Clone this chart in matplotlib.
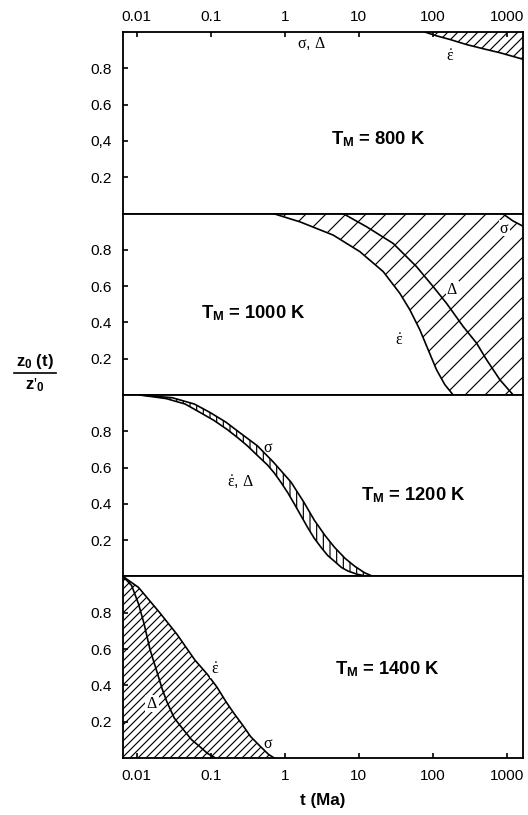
import numpy as np
import matplotlib
matplotlib.use("Agg")
import matplotlib.pyplot as plt
from matplotlib.lines import Line2D

plt.rcParams['font.family'] = ['Liberation Sans', 'DejaVu Sans']
plt.rcParams['mathtext.fontset'] = 'custom'
plt.rcParams['mathtext.rm'] = 'Liberation Serif'
plt.rcParams['mathtext.it'] = 'Liberation Serif:italic'
plt.rcParams['mathtext.bf'] = 'Liberation Sans:bold'
plt.rcParams['mathtext.default'] = 'rm'
plt.rcParams['hatch.linewidth'] = 0.7

# x ticks (t in Ma) and y ticks
t_ticks = [0.01, 0.1, 1, 10, 100, 1000]
t_labels = ["0.01", "0.1", "1", "10", "100", "1000"]
y_ticks = [0.2, 0.4, 0.6, 0.8]
y_labels_top = ["0.2", "0,4", "0.6", "0.8"]
y_labels = ["0.2", "0.4", "0.6", "0.8"]
t_min, t_max = 0.0065, 1650

# T_M = 800 K
t800_eps = [78, 110, 170, 285, 478, 804, 1650]
z800_eps = [1.0, 0.98, 0.959, 0.931, 0.908, 0.886, 0.85]

# T_M = 1000 K
t1000_eps = [0.695, 1.6, 4.5, 10.3, 21.3, 35.8, 48.9, 66.7, 86.4, 112, 145, 188]
z1000_eps = [1.0, 0.954, 0.881, 0.79, 0.68, 0.56, 0.469, 0.359, 0.249, 0.139, 0.057, 0.0]
t1000_delta = [6.1, 12.7, 29.1, 60.2, 101, 153, 257, 389, 532, 804, 1217]
z1000_delta = [1.0, 0.927, 0.835, 0.707, 0.597, 0.505, 0.377, 0.286, 0.194, 0.084, 0.0]
t1000_sigma = [870, 1200, 1650]
z1000_sigma = [1.0, 0.96, 0.93]

# T_M = 1200 K
t1200_eps = [0.011, 0.025, 0.045, 0.072, 0.11, 0.166, 0.23, 0.311, 0.43, 0.58, 0.72,
             0.88, 1.1, 1.34, 1.65, 2.03, 2.5, 3.09, 3.8, 4.7, 5.8, 7.1, 9.5, 13.3]
z1200_eps = [1.0, 0.98, 0.95, 0.903, 0.86, 0.81, 0.765, 0.72, 0.665, 0.615, 0.57,
             0.52, 0.46, 0.40, 0.335, 0.27, 0.21, 0.16, 0.115, 0.083, 0.05, 0.03, 0.012, 0.0]
t1200_sigma = [0.011, 0.03, 0.06, 0.098, 0.16, 0.25, 0.425, 0.7, 1.21, 1.8, 2.5,
               3.5, 4.7, 6.5, 8.8, 12, 15.6]
z1200_sigma = [1.0, 0.985, 0.95, 0.903, 0.85, 0.79, 0.72, 0.63, 0.52, 0.41, 0.31,
               0.225, 0.16, 0.1, 0.056, 0.02, 0.0]

# T_M = 1400 K
t1400_sigma = [0.0065, 0.0105, 0.0204, 0.035, 0.0607, 0.09, 0.121, 0.16, 0.204,
               0.27, 0.344, 0.47, 0.6, 0.715]
z1400_sigma = [1.0, 0.94, 0.80, 0.68, 0.54, 0.46, 0.39, 0.31, 0.247,
               0.18, 0.118, 0.062, 0.02, 0.0]
t1400_delta = [0.0065, 0.0085, 0.0105, 0.0125, 0.015, 0.0185, 0.022, 0.0254,
               0.032, 0.0427, 0.055, 0.072, 0.09, 0.115]
z1400_delta = [1.0, 0.95, 0.85, 0.74, 0.60, 0.48, 0.38, 0.31,
               0.22, 0.155, 0.10, 0.06, 0.025, 0.0]

fig, axes = plt.subplots(4, 1, figsize=(4.4, 815 / 120), dpi=120, sharex=True)
fig.subplots_adjust(left=0.233, right=0.9905, top=0.9607, bottom=0.070, hspace=0)

lw = 1.0
for i, ax in enumerate(axes):
    ax.set_xscale('log')
    ax.set_xlim(t_min, t_max)
    ax.set_ylim(0, 1)
    ax.set_yticks(y_ticks)
    ax.set_yticklabels(y_labels_top if i == 0 else y_labels)
    ax.minorticks_off()
    for s in ax.spines.values():
        s.set_linewidth(1.1)
    ax.tick_params(axis='y', direction='in', length=3, width=1, labelsize=9.2, pad=6.5)
    ax.tick_params(axis='x', which='both', bottom=False, top=False,
                   labelbottom=False, labeltop=False)

# top and bottom x axes
axes[0].set_xticks(t_ticks)
axes[0].set_xticklabels(t_labels)
axes[0].minorticks_off()
axes[0].tick_params(axis='x', top=True, labeltop=True, direction='in',
                    length=3, width=1, labelsize=9.2, pad=5)
axes[3].tick_params(axis='x', bottom=True, labelbottom=True, direction='in',
                    length=3, width=1, labelsize=9.2, pad=6.5)
axes[3].set_xlabel("t (Ma)", fontsize=10.2, fontweight='bold', labelpad=6)

hatch_kw = dict(facecolor='none', edgecolor='black', linewidth=0)
lab_kw = dict(fontsize=9.5, ha='center', va='center')
big_kw = dict(fontsize=11, fontweight='bold', ha='center', va='center')
white = dict(fc='white', ec='none', pad=0.5)

# 800 K
ax = axes[0]
ax.plot(t800_eps, z800_eps, color='black', lw=lw)
ax.fill(t800_eps + [t800_eps[-1]], z800_eps + [1.0], hatch='////', **hatch_kw)
ax.text(2.3, 0.935, r"$\sigma$, $\Delta$", **lab_kw)
ax.text(170, 0.87, r"$\dot{\varepsilon}$", **lab_kw)
ax.text(18, 0.41, r"T$_\mathbf{M}$ = 800 K", **big_kw)

# 1000 K
ax = axes[1]
ax.plot(t1000_eps, z1000_eps, color='black', lw=lw)
ax.plot(t1000_delta, z1000_delta, color='black', lw=lw)
ax.plot(t1000_sigma, z1000_sigma, color='black', lw=lw)
poly_t = t1000_eps + [t_max, t_max] + t1000_sigma[::-1]
poly_z = z1000_eps + [0.0, z1000_sigma[-1]] + z1000_sigma[::-1]
ax.fill(poly_t, poly_z, hatch='//', **hatch_kw)
ax.text(930, 0.92, r"$\sigma$", bbox=white, **lab_kw)
ax.text(182, 0.58, r"$\Delta$", bbox=white, **lab_kw)
ax.text(35, 0.30, r"$\dot{\varepsilon}$", **lab_kw)
ax.text(0.38, 0.45, r"T$_\mathbf{M}$ = 1000 K", **big_kw)

# 1200 K
ax = axes[2]
ax.plot(t1200_eps, z1200_eps, color='black', lw=lw)
ax.plot(t1200_sigma, z1200_sigma, color='black', lw=lw)
ax.fill(t1200_eps + t1200_sigma[::-1], z1200_eps + z1200_sigma[::-1], hatch='|||', **hatch_kw)
ax.text(0.6, 0.71, r"$\sigma$", **lab_kw)
ax.text(0.25, 0.52, r"$\dot{\varepsilon}$, $\Delta$", **lab_kw)
ax.text(55, 0.45, r"T$_\mathbf{M}$ = 1200 K", **big_kw)

# 1400 K
ax = axes[3]
ax.plot(t1400_sigma, z1400_sigma, color='black', lw=lw)
ax.plot(t1400_delta, z1400_delta, color='black', lw=lw)
ax.fill(t1400_sigma + [t_min], z1400_sigma + [0.0], hatch='/////', **hatch_kw)
ax.text(0.115, 0.49, r"$\dot{\varepsilon}$", bbox=white, **lab_kw)
ax.text(0.016, 0.30, r"$\Delta$", bbox=white, **lab_kw)
ax.text(0.6, 0.08, r"$\sigma$", **lab_kw)
ax.text(24, 0.49, r"T$_\mathbf{M}$ = 1400 K", **big_kw)

# y label as fraction
fig.text(0.066, 0.556, r"z$_\mathbf{0}$ (t)", fontsize=10, fontweight='bold', ha='center', va='center')
fig.text(0.066, 0.527, r"z$'_\mathbf{0}$", fontsize=10, fontweight='bold', ha='center', va='center')
fig.add_artist(Line2D([0.026, 0.106], [0.5425, 0.5425], color='black', lw=1.0,
                      transform=fig.transFigure))

fig.savefig("out.png", dpi=120)
